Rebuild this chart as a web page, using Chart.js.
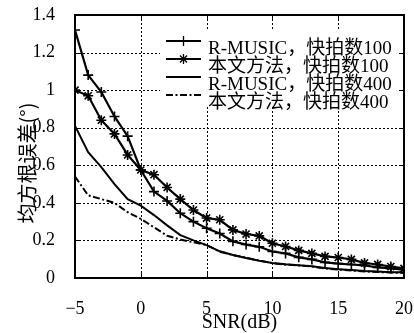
<!DOCTYPE html>
<html>
<head>
<meta charset="utf-8">
<script src="https://cdn.jsdelivr.net/npm/chart.js@4.4.1/dist/chart.umd.min.js"></script>
<style>
html, body { margin: 0; padding: 0; background: #fff; }
#wrap { position: relative; width: 414px; height: 333px; overflow: hidden; background: #fff; }
#fondo, #myChart { position: absolute; left: 0; top: 0; }
#leyenda { position: absolute; left: 160px; top: 30px; width: 238px; height: 76px; background: #fff; }
#muestras { position: absolute; left: 0; top: 0; }
.fila { position: absolute; left: 48px; height: 20px; line-height: 20px; white-space: nowrap;
        font: 19px "Liberation Serif", "Noto Sans CJK SC", serif; color: #000; }
#tituloX { position: absolute; left: 139.5px; top: 310px; width: 200px; height: 24px; line-height: 24px;
           text-align: center; font: 20px "Liberation Serif", serif; color: #000; }
#tituloY { position: absolute; left: -76px; top: 151px; width: 200px; height: 24px; line-height: 24px;
           text-align: center; font: 20px "Noto Sans CJK SC", sans-serif; color: #000; transform: rotate(-90deg); }
</style>
</head>
<body>
<div id="wrap">
  <canvas id="fondo" width="414" height="333"></canvas>
  <canvas id="myChart" width="414" height="333"></canvas>
  <div id="leyenda"><canvas id="muestras" width="50" height="76"></canvas></div>
  <div id="tituloX">SNR(dB)</div>
  <div id="tituloY">均方根误差(°)</div>
</div>
<script>
// datos
const snr = [-5, -4, -3, -2, -1, 0, 1, 2, 3, 4, 5, 6, 7, 8, 9, 10, 11, 12, 13, 14, 15, 16, 17, 18, 19, 20];
const rmusic100 = [1.32, 1.08, 0.99, 0.86, 0.755, 0.575, 0.46, 0.41, 0.345, 0.30, 0.265, 0.237, 0.195, 0.178, 0.166, 0.141, 0.131, 0.11, 0.099, 0.083, 0.077, 0.072, 0.067, 0.056, 0.051, 0.045];
const propuesto100 = [1.0, 0.97, 0.84, 0.767, 0.655, 0.575, 0.55, 0.482, 0.42, 0.362, 0.319, 0.31, 0.256, 0.234, 0.224, 0.185, 0.168, 0.147, 0.131, 0.115, 0.109, 0.099, 0.08, 0.072, 0.061, 0.051];
const rmusic400 = [0.81, 0.67, 0.59, 0.50, 0.42, 0.385, 0.335, 0.28, 0.228, 0.2, 0.175, 0.142, 0.122, 0.106, 0.092, 0.08, 0.073, 0.068, 0.063, 0.053, 0.047, 0.042, 0.037, 0.034, 0.031, 0.03];
const propuesto400 = [0.54, 0.44, 0.42, 0.40, 0.35, 0.315, 0.27, 0.225, 0.205, 0.19, 0.175, 0.14, 0.122, 0.108, 0.093, 0.079, 0.071, 0.067, 0.061, 0.051, 0.045, 0.04, 0.035, 0.032, 0.029, 0.027];
const xTicks = [-5, 0, 5, 10, 15, 20];
const yTicks = [0, 0.2, 0.4, 0.6, 0.8, 1, 1.2, 1.4];
const labels = ['R-MUSIC，快拍数100', '本文方法，快拍数100', 'R-MUSIC，快拍数400', '本文方法，快拍数400'];

const serif = '"Liberation Serif", "DejaVu Serif", serif';
const dashDot = [7, 2.5, 2, 2.5];

function puntos(arr) {
    return snr.map((x, i) => ({ x: x, y: arr[i] }));
}

// marcadores de la leyenda
function marcador(ctx, tipo, x, y, r) {
    ctx.beginPath();
    ctx.moveTo(x - r, y); ctx.lineTo(x + r, y);
    ctx.moveTo(x, y - r); ctx.lineTo(x, y + r);
    if (tipo === 'star') {
        const d = r * 0.7071;
        ctx.moveTo(x - d, y - d); ctx.lineTo(x + d, y + d);
        ctx.moveTo(x - d, y + d); ctx.lineTo(x + d, y - d);
    }
    ctx.stroke();
}

const ctxChart = document.getElementById('myChart');
const chartInstance = new Chart(ctxChart, {
    type: 'line',
    data: {
        datasets: [
            {
                label: labels[0],
                data: puntos(rmusic100),
                borderColor: '#000',
                borderWidth: 2.2,
                pointStyle: 'cross',
                pointRadius: 5,
                pointBorderWidth: 1.6,
                tension: 0
            },
            {
                label: labels[1],
                data: puntos(propuesto100),
                borderColor: '#000',
                borderWidth: 2.2,
                pointStyle: 'star',
                pointRadius: 5,
                pointBorderWidth: 1.6,
                tension: 0
            },
            {
                label: labels[2],
                data: puntos(rmusic400),
                borderColor: '#000',
                borderWidth: 2,
                pointRadius: 0,
                tension: 0
            },
            {
                label: labels[3],
                data: puntos(propuesto400),
                borderColor: '#000',
                borderWidth: 2,
                borderDash: dashDot,
                pointRadius: 0,
                tension: 0
            }
        ]
    },
    options: {
        responsive: false,
        animation: false,
        layout: { padding: { top: 15, right: 10, left: 0, bottom: 0 } },
        plugins: {
            legend: { display: false },
            tooltip: { enabled: false }
        },
        scales: {
            x: {
                type: 'linear',
                min: -5,
                max: 20,
                afterFit: s => { s.height = 55; s.paddingLeft = 0; s.paddingRight = 0; },
                afterBuildTicks: s => { s.ticks = xTicks.map(v => ({ value: v })); },
                grid: { display: false },
                border: { display: false },
                ticks: {
                    color: '#000',
                    padding: 12,
                    font: { family: serif, size: 18 },
                    callback: v => (v < 0 ? '\u2212' + Math.abs(v) : String(v))
                }
            },
            y: {
                min: 0,
                max: 1.4,
                afterFit: s => { s.width = 75; s.paddingTop = 0; s.paddingBottom = 0; },
                afterBuildTicks: s => { s.ticks = yTicks.map(v => ({ value: v })); },
                grid: { display: false },
                border: { display: false },
                ticks: {
                    color: '#000',
                    padding: 12,
                    font: { family: serif, size: 18 },
                    callback: v => String(Math.round(v * 10) / 10)
                }
            }
        }
    }
});

// grilla punteada, marco y ticks hacia adentro en un canvas de fondo
function dibujarFondo() {
    const ctx = document.getElementById('fondo').getContext('2d');
    const a = chartInstance.chartArea;
    const xs = chartInstance.scales.x, ys = chartInstance.scales.y;
    const L = Math.round(a.left), R = Math.round(a.right), T = Math.round(a.top), B = Math.round(a.bottom);
    ctx.clearRect(0, 0, 414, 333);
    ctx.fillStyle = '#000';
    xTicks.forEach(v => {
        const px = Math.round(xs.getPixelForValue(v));
        for (let y = T; y < B; y += 4) ctx.fillRect(px, y, 1, 2);
        ctx.fillRect(px, B - 5, 1, 5);
        ctx.fillRect(px, T, 1, 5);
    });
    yTicks.forEach(v => {
        const py = Math.round(ys.getPixelForValue(v));
        for (let x = L; x < R; x += 4) ctx.fillRect(x, py, 2, 1);
        ctx.fillRect(L, py, 5, 1);
        ctx.fillRect(R - 5, py, 5, 1);
    });
    ctx.fillRect(L - 1, T - 1, R - L + 2, 2);
    ctx.fillRect(L - 1, B - 1, R - L + 2, 2);
    ctx.fillRect(L - 1, T - 1, 2, B - T + 2);
    ctx.fillRect(R - 1, T - 1, 2, B - T + 2);
}
dibujarFondo();

// leyenda: muestras en un canvas chico y textos en html
const filas = [11, 29, 47, 65];
const leyenda = document.getElementById('leyenda');
const mctx = document.getElementById('muestras').getContext('2d');
chartInstance.data.datasets.forEach((d, i) => {
    const y = filas[i];
    mctx.strokeStyle = '#000';
    mctx.lineWidth = d.borderWidth;
    mctx.setLineDash(d.borderDash || []);
    mctx.beginPath();
    mctx.moveTo(6, y); mctx.lineTo(41, y);
    mctx.stroke();
    mctx.setLineDash([]);
    if (d.pointRadius > 0) {
        mctx.lineWidth = 1.3;
        marcador(mctx, d.pointStyle, 23.5, y, 5);
    }
    const fila = document.createElement('div');
    fila.className = 'fila';
    fila.style.top = (y - 9) + 'px';
    fila.textContent = labels[i];
    leyenda.appendChild(fila);
});
</script>
</body>
</html>
